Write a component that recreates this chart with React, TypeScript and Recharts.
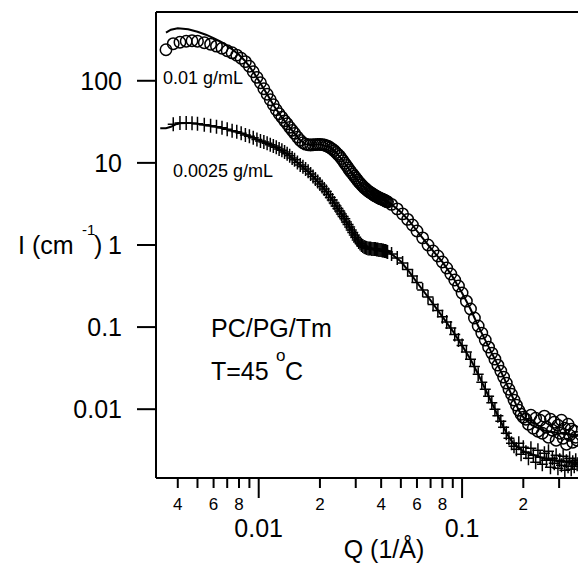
import React from 'react';
import { ComposedChart, Scatter, XAxis, YAxis, ReferenceLine } from 'recharts';

// ---- data (Q in 1/Å, I in 1/cm) ----
const circleLowQ = [0.0035, 0.0038, 0.0041, 0.0044, 0.0047, 0.005, 0.0054, 0.0058, 0.0062, 0.0066, 0.007, 0.0074, 0.0078, 0.0082, 0.0086, 0.009, 0.0094, 0.0098, 0.0102, 0.0106, 0.011, 0.0114, 0.0118, 0.0122, 0.0126, 0.013, 0.0134, 0.0138, 0.0142, 0.0146, 0.015, 0.0155, 0.016, 0.0165, 0.017, 0.0175, 0.018, 0.0185, 0.019, 0.0195, 0.02, 0.0205, 0.021, 0.0215, 0.022, 0.0225, 0.023, 0.0235, 0.024, 0.0245, 0.025, 0.0255, 0.026, 0.0265, 0.027, 0.0275, 0.028, 0.0285, 0.029, 0.0295, 0.03, 0.0305, 0.031, 0.0315, 0.032, 0.0325, 0.033, 0.0335, 0.034, 0.0345, 0.035, 0.0355, 0.036, 0.0365, 0.037, 0.0375, 0.038, 0.0385, 0.039, 0.0395, 0.04, 0.0405, 0.041, 0.0415, 0.042, 0.0425, 0.043];
const circleLowI = [239, 283, 295, 303, 307, 303, 291, 279, 264, 249, 232, 219, 205, 188, 171, 150, 129, 110, 94.6, 79.9, 68.5, 58.7, 51.0, 44.3, 39.6, 35.9, 32.5, 29.9, 27.1, 24.9, 22.9, 20.6, 18.8, 17.6, 16.9, 16.6, 16.5, 16.6, 16.7, 16.8, 16.8, 16.7, 16.5, 16.2, 15.8, 15.3, 14.7, 14.1, 13.4, 12.7, 12.1, 11.3, 10.6, 9.9, 9.3, 8.7, 8.15, 7.7, 7.3, 6.9, 6.55, 6.2, 5.9, 5.65, 5.42, 5.2, 5.0, 4.85, 4.68, 4.55, 4.43, 4.32, 4.24, 4.14, 4.04, 3.97, 3.91, 3.82, 3.76, 3.7, 3.65, 3.6, 3.55, 3.5, 3.45, 3.4, 3.35];

const plusLowQ = circleLowQ.slice(1);
const plusLowI = [29.5, 30.7, 30.7, 30.3, 29.9, 29.1, 28.3, 27.5, 26.7, 25.6, 24.6, 23.9, 22.9, 21.9, 21.1, 20.2, 19.3, 18.5, 18.0, 17.3, 16.6, 16.1, 15.5, 14.8, 14.2, 13.6, 12.9, 12.2, 11.5, 10.9, 10.1, 9.45, 8.94, 8.45, 7.88, 7.34, 6.84, 6.38, 5.95, 5.54, 5.17, 4.82, 4.49, 4.13, 3.80, 3.54, 3.25, 2.99, 2.79, 2.60, 2.39, 2.23, 2.08, 1.91, 1.78, 1.66, 1.52, 1.42, 1.32, 1.23, 1.15, 1.09, 1.04, 1.00, 0.972, 0.945, 0.932, 0.919, 0.906, 0.906, 0.906, 0.894, 0.894, 0.894, 0.894, 0.881, 0.881, 0.869, 0.869, 0.869, 0.857, 0.857, 0.845, 0.845, 0.834, 0.822];

const highQ = [0.045, 0.048, 0.051, 0.054, 0.057, 0.06, 0.064, 0.068, 0.072, 0.076, 0.08, 0.084, 0.088, 0.092, 0.096, 0.1, 0.105, 0.11, 0.115, 0.12, 0.125, 0.13, 0.135, 0.14, 0.145, 0.15, 0.155, 0.16, 0.165, 0.17, 0.175, 0.18, 0.185, 0.19, 0.195, 0.2, 0.206, 0.212, 0.218, 0.224, 0.23, 0.236, 0.242, 0.248, 0.254, 0.26, 0.266, 0.272, 0.278, 0.284, 0.29, 0.296, 0.302, 0.308, 0.314, 0.32, 0.326, 0.332, 0.338, 0.344, 0.35, 0.356, 0.362, 0.368];
const circleHighI = [3.12, 2.75, 2.39, 2.05, 1.75, 1.48, 1.22, 1.0, 0.845, 0.734, 0.621, 0.524, 0.443, 0.374, 0.316, 0.26, 0.207, 0.166, 0.129, 0.103, 0.0845, 0.0694, 0.057, 0.0482, 0.0407, 0.0344, 0.0291, 0.0246, 0.0208, 0.0175, 0.0152, 0.0129, 0.0112, 0.00972, 0.00869, 0.00798, 0.00755, 0.00656, 0.00845, 0.00586, 0.00776, 0.00539, 0.00734, 0.0051, 0.00822, 0.00603, 0.00456, 0.00755, 0.00554, 0.00694, 0.00419, 0.00638, 0.0051, 0.00734, 0.00443, 0.00586, 0.00374, 0.00656, 0.00482, 0.00571, 0.00396, 0.00539, 0.00456, 0.00419];
const plusHighI = [0.777, 0.694, 0.603, 0.503, 0.419, 0.349, 0.283, 0.232, 0.188, 0.159, 0.134, 0.115, 0.0972, 0.081, 0.0694, 0.0595, 0.0496, 0.0407, 0.033, 0.0267, 0.0213, 0.0175, 0.0144, 0.012, 0.01, 0.00833, 0.00714, 0.00603, 0.0051, 0.00443, 0.00385, 0.00354, 0.00325, 0.00385, 0.00283, 0.00344, 0.00299, 0.00253, 0.00334, 0.00275, 0.00226, 0.00316, 0.0026, 0.00213, 0.00291, 0.00239, 0.00307, 0.00196, 0.00253, 0.00219, 0.00275, 0.00191, 0.00239, 0.00207, 0.00267, 0.0018, 0.00232, 0.00202, 0.00253, 0.00185, 0.00226, 0.00202, 0.00239, 0.00213];

const circleFitQ = [0.0035, 0.0037, 0.004, 0.0045, 0.005, 0.0055, 0.006, 0.0065, 0.007, 0.0075, 0.008, 0.0085, 0.009, 0.0095, 0.01, 0.011, 0.012, 0.013, 0.014, 0.015, 0.016, 0.017, 0.018, 0.02, 0.022, 0.024, 0.026, 0.028, 0.03, 0.032, 0.034, 0.036, 0.038, 0.04, 0.042, 0.045, 0.05, 0.055, 0.06, 0.07, 0.08, 0.09, 0.1, 0.11, 0.12, 0.13, 0.14, 0.15, 0.16, 0.17, 0.18, 0.19, 0.2, 0.22, 0.25, 0.3, 0.37];
const circleFitI = [385, 419, 437, 425, 396, 364, 330, 299, 267, 235, 207, 178, 150, 123, 101, 68.5, 47.5, 35.9, 28.3, 22.9, 18.8, 16.9, 16.5, 16.8, 15.8, 13.4, 10.6, 8.15, 6.55, 5.42, 4.68, 4.24, 3.91, 3.65, 3.45, 3.12, 2.53, 1.96, 1.48, 0.919, 0.621, 0.407, 0.26, 0.166, 0.103, 0.0694, 0.0482, 0.0344, 0.0246, 0.0175, 0.0129, 0.00972, 0.00798, 0.0064, 0.00555, 0.0051, 0.0048];

const plusFitQ = [0.00328, 0.0035, 0.0037, 0.004, 0.0045, 0.005, 0.006, 0.007, 0.008, 0.009, 0.01, 0.012, 0.014, 0.016, 0.018, 0.02, 0.022, 0.024, 0.026, 0.028, 0.03, 0.032, 0.034, 0.036, 0.038, 0.04, 0.042, 0.045, 0.05, 0.055, 0.06, 0.07, 0.08, 0.09, 0.1, 0.11, 0.12, 0.13, 0.14, 0.15, 0.16, 0.17, 0.18, 0.2, 0.25, 0.3, 0.37];
const plusFitI = [26.5, 26.5, 27.5, 30.3, 30.7, 29.9, 27.9, 25.6, 23.5, 21.1, 19.1, 15.7, 12.5, 9.45, 7.34, 5.54, 4.13, 2.99, 2.23, 1.66, 1.23, 1.0, 0.919, 0.894, 0.881, 0.869, 0.845, 0.777, 0.629, 0.469, 0.349, 0.211, 0.134, 0.0894, 0.0595, 0.0407, 0.0267, 0.0175, 0.012, 0.00833, 0.00603, 0.00456, 0.00374, 0.00307, 0.00253, 0.00232, 0.00219];

const xTickValues = [0.004, 0.005, 0.006, 0.007, 0.008, 0.009, 0.01, 0.02, 0.03, 0.04, 0.05, 0.06, 0.07, 0.08, 0.09, 0.1, 0.2, 0.3];
const xTickLabels = ['4', '', '6', '', '8', '', '0.01', '2', '', '4', '', '6', '', '8', '', '0.1', '2', ''];
const yTickValues = [0.01, 0.1, 1, 10, 100];
const yTickLabels = ['0.01', '0.1', '1', '10', '100'];

const xDomain = [0.003126, 0.3715];
const yDomain = [0.001452, 688];

const zip = (qs: number[], is: number[]) => qs.map((q, k) => ({ q, i: is[k] }));
const circleData = [...zip(circleLowQ, circleLowI), ...zip(highQ, circleHighI)];
const plusData = [...zip(plusLowQ, plusLowI), ...zip(highQ, plusHighI)];
const circleFit = zip(circleFitQ, circleFitI);
const plusFit = zip(plusFitQ, plusFitI);

const FONT = '"Liberation Sans", Arial, Helvetica, sans-serif';
const INK = '#000';

const CircleMark = (p: any) =>
  p.cx == null ? <g /> : <circle cx={p.cx} cy={p.cy} r={5.7} fill="none" stroke={INK} strokeWidth={1.5} />;
const PlusMark = (p: any) =>
  p.cx == null ? <g /> : (
    <path d={`M${p.cx - 5.5},${p.cy}H${p.cx + 5.5}M${p.cx},${p.cy - 7}V${p.cy + 7}`} stroke={INK} strokeWidth={1.5} fill="none" />
  );
const NoMark = () => <g />;

const findIdx = (arr: number[], v: number) => arr.findIndex((t) => Math.abs(t - v) / t < 1e-6);

const XTick = (p: any) => {
  const { x, y, payload } = p;
  const k = findIdx(xTickValues, payload.value);
  const label = k >= 0 ? xTickLabels[k] : '';
  const major = label.indexOf('.') >= 0;
  return (
    <g>
      <line x1={x} x2={x} y1={y} y2={y + (major ? 20 : 10)} stroke={INK} strokeWidth={2} />
      {label && (
        <text x={x} y={major ? y + 59 : y + 32} textAnchor="middle" fontSize={major ? 25 : 17} fontFamily={FONT} fill={INK}>
          {label}
        </text>
      )}
    </g>
  );
};

const YTick = (p: any) => {
  const { x, y, payload } = p;
  const k = findIdx(yTickValues, payload.value);
  return (
    <g>
      <line x1={x - 19} x2={x} y1={y} y2={y} stroke={INK} strokeWidth={2} />
      <text x={x - 34} y={y + 9} textAnchor="end" fontSize={25} fontFamily={FONT} fill={INK}>
        {k >= 0 ? yTickLabels[k] : ''}
      </text>
    </g>
  );
};

export default function App() {
  return (
    <div style={{ position: 'absolute', left: 0, top: 0, width: 578, height: 565, background: '#fff' }}>
      <ComposedChart width={578} height={565} margin={{ top: 12, right: 0, bottom: 0, left: 0 }}>
        <XAxis
          xAxisId="main"
          dataKey="q"
          type="number"
          scale="log"
          domain={xDomain}
          allowDataOverflow
          ticks={xTickValues}
          interval={0}
          height={87}
          tickSize={0}
          tickMargin={0}
          tickLine={false}
          tick={<XTick />}
          axisLine={{ stroke: INK, strokeWidth: 2 }}
        />
        <YAxis
          yAxisId="main"
          dataKey="i"
          type="number"
          scale="log"
          domain={yDomain}
          allowDataOverflow
          ticks={yTickValues}
          interval={0}
          width={156}
          tickSize={0}
          tickMargin={0}
          tickLine={false}
          tick={<YTick />}
          axisLine={{ stroke: INK, strokeWidth: 2 }}
        />
        <ReferenceLine xAxisId="main" yAxisId="main" y={yDomain[1]} stroke={INK} strokeWidth={2} ifOverflow="extendDomain" />
        <Scatter xAxisId="main" yAxisId="main" name="0.01 g/mL" data={circleData} shape={<CircleMark />} isAnimationActive={false} />
        <Scatter xAxisId="main" yAxisId="main" name="0.0025 g/mL" data={plusData} shape={<PlusMark />} isAnimationActive={false} />
        <Scatter xAxisId="main" yAxisId="main" name="fit 0.01" data={circleFit} shape={<NoMark />} line={{ stroke: INK, strokeWidth: 2 }} isAnimationActive={false} />
        <Scatter xAxisId="main" yAxisId="main" name="fit 0.0025" data={plusFit} shape={<NoMark />} line={{ stroke: INK, strokeWidth: 2 }} isAnimationActive={false} />
      </ComposedChart>
      <svg width={578} height={565} style={{ position: 'absolute', left: 0, top: 0, pointerEvents: 'none' }} fontFamily={FONT} fill={INK}>
        <text x={163} y={84} fontSize={18}>0.01 g/mL</text>
        <text x={173} y={177} fontSize={18}>0.0025 g/mL</text>
        <text x={211} y={337} fontSize={25}>PC/PG/Tm</text>
        <text x={211} y={380} fontSize={25}>T=45</text>
        <text x={276} y={361} fontSize={17}>o</text>
        <text x={285} y={380} fontSize={25}>C</text>
        <text x={18} y={254} fontSize={25}>I (cm</text>
        <text x={82} y={235} fontSize={15}>-1</text>
        <text x={94} y={254} fontSize={25}>)</text>
        <text x={384} y={558} fontSize={25} textAnchor="middle">Q (1/Å)</text>
      </svg>
    </div>
  );
}
